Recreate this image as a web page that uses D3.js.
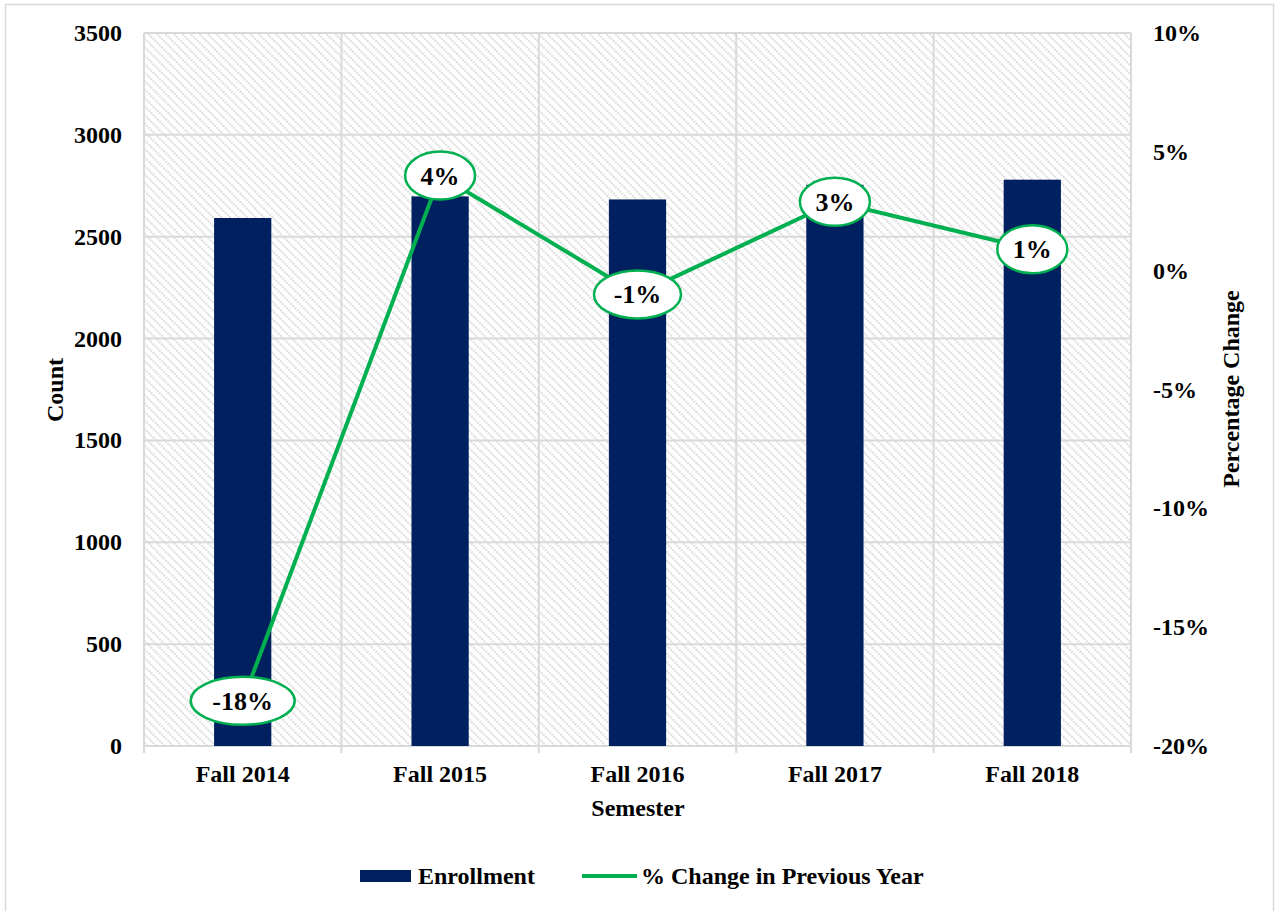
<!DOCTYPE html>
<html>
<head>
<meta charset="utf-8">
<script src="https://cdn.jsdelivr.net/npm/d3@7"></script>
<style>
  body { margin: 0; background: #fff; }
  text { font-family: "Liberation Serif", "Times New Roman", serif; font-weight: bold; fill: #000; }
</style>
</head>
<body>
<svg width="1276" height="911"></svg>
<script>
// data
const semesters = ["Fall 2014", "Fall 2015", "Fall 2016", "Fall 2017", "Fall 2018"]
const enrollment = [2592, 2698, 2683, 2755, 2780]
const pctChange = [-18.1, 4.0, -1.0, 2.9, 0.9]
const pctLabels = ["-18%", "4%", "-1%", "3%", "1%"]
const countTicks = [0, 500, 1000, 1500, 2000, 2500, 3000, 3500]
const pctTicks = [-20, -15, -10, -5, 0, 5, 10]

const green = "#00b050", navy = "#002060", grid = "#d9d9d9";

const svg = d3.select("svg");
const plotL = 144, plotR = 1131, plotT = 33, plotB = 746;

// outer chart border
svg.append("rect")
    .attr("x", 5.5).attr("y", 4.5)
    .attr("width", 1268).attr("height", 920)
    .attr("fill", "#fff").attr("stroke", grid).attr("stroke-width", 1.5);

// hatch pattern for plot area
const defs = svg.append("defs");
const pat = defs.append("pattern")
    .attr("id", "hatch")
    .attr("patternUnits", "userSpaceOnUse")
    .attr("width", 6).attr("height", 6)
    .attr("patternTransform", "rotate(-45)");
pat.append("line")
    .attr("x1", 3).attr("y1", 0).attr("x2", 3).attr("y2", 6)
    .attr("stroke", "#dedede").attr("stroke-width", 2.2)
    .attr("stroke-dasharray", "2,1");

const x = d3.scaleBand().domain(semesters).range([plotL, plotR]).paddingInner(0.71).paddingOuter(0.355);
const xb = d3.scaleBand().domain(semesters).range([plotL, plotR]);
const y = d3.scaleLinear().domain([0, 3500]).range([plotB, plotT]);
const y2 = d3.scaleLinear().domain([-20, 10]).range([plotB, plotT]);

svg.append("rect")
    .attr("x", plotL).attr("y", plotT)
    .attr("width", plotR - plotL).attr("height", plotB - plotT)
    .attr("fill", "url(#hatch)");

// gridlines
svg.append("g").selectAll("line")
    .data(countTicks)
    .enter().append("line")
    .attr("x1", plotL).attr("x2", plotR)
    .attr("y1", d => y(d)).attr("y2", d => y(d))
    .attr("stroke", grid).attr("stroke-width", 2);

const bounds = semesters.map(s => xb(s)).concat([plotR]);
svg.append("g").selectAll("line")
    .data(bounds)
    .enter().append("line")
    .attr("x1", d => d).attr("x2", d => d)
    .attr("y1", plotT).attr("y2", plotB + 7)
    .attr("stroke", grid).attr("stroke-width", 2);

// bars
svg.append("g").selectAll("rect")
    .data(enrollment)
    .enter().append("rect")
    .attr("x", (d, i) => x(semesters[i]))
    .attr("width", x.bandwidth())
    .attr("y", d => y(d))
    .attr("height", d => plotB - y(d))
    .attr("fill", navy);

// axis labels
svg.append("g").selectAll("text")
    .data(countTicks)
    .enter().append("text")
    .attr("x", 122).attr("y", d => y(d) + 8)
    .attr("text-anchor", "end")
    .attr("font-size", 24)
    .text(d => d);

svg.append("g").selectAll("text")
    .data(pctTicks)
    .enter().append("text")
    .attr("x", 1153).attr("y", d => y2(d) + 8)
    .attr("font-size", 24)
    .text(d => d + "%");

svg.append("g").selectAll("text")
    .data(semesters)
    .enter().append("text")
    .attr("x", d => xb(d) + xb.bandwidth() / 2).attr("y", 782)
    .attr("text-anchor", "middle")
    .attr("font-size", 24)
    .text(d => d);

svg.append("text")
    .attr("x", 638).attr("y", 816)
    .attr("text-anchor", "middle").attr("font-size", 24)
    .text("Semester");

svg.append("text")
    .attr("transform", "translate(63,390) rotate(-90)")
    .attr("text-anchor", "middle").attr("font-size", 24)
    .text("Count");

svg.append("text")
    .attr("transform", "translate(1239,389) rotate(-90)")
    .attr("text-anchor", "middle").attr("font-size", 24)
    .text("Percentage Change");

// percent change line
const cx = i => xb(semesters[i]) + xb.bandwidth() / 2;
const line = d3.line()
    .x((d, i) => cx(i))
    .y(d => y2(d));

svg.append("path")
    .datum(pctChange)
    .attr("d", line)
    .attr("fill", "none")
    .attr("stroke", green)
    .attr("stroke-width", 4);

// ellipse data labels
const lab = svg.append("g").selectAll("g")
    .data(pctChange)
    .enter().append("g")
    .attr("transform", (d, i) => `translate(${cx(i)},${y2(d)})`);

lab.append("ellipse")
    .attr("rx", (d, i) => pctLabels[i].length * 8.5 + 18)
    .attr("ry", 24)
    .attr("fill", "#fff")
    .attr("stroke", green)
    .attr("stroke-width", 2.5);

lab.append("text")
    .attr("text-anchor", "middle")
    .attr("y", 9)
    .attr("font-size", 26)
    .text((d, i) => pctLabels[i]);

// legend
const leg = svg.append("g");
leg.append("rect")
    .attr("x", 360).attr("y", 870).attr("width", 51).attr("height", 12)
    .attr("fill", navy);
leg.append("text")
    .attr("x", 418).attr("y", 884).attr("font-size", 24)
    .text("Enrollment");
leg.append("line")
    .attr("x1", 582).attr("x2", 637).attr("y1", 876).attr("y2", 876)
    .attr("stroke", green).attr("stroke-width", 4);
leg.append("text")
    .attr("x", 641).attr("y", 884).attr("font-size", 24)
    .text("% Change in Previous Year");
</script>
</body>
</html>
